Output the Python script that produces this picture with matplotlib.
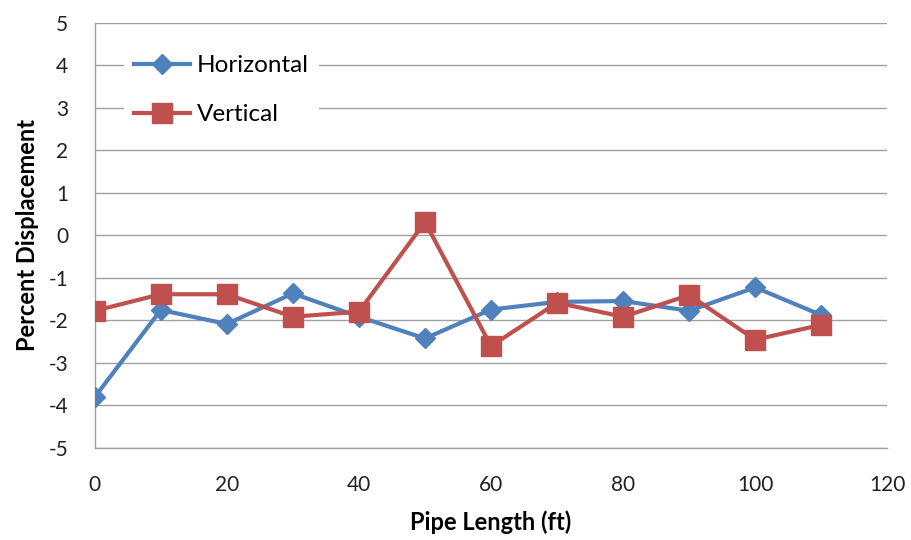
import matplotlib
matplotlib.use("Agg")
import matplotlib.pyplot as plt

pipe_length = [0, 10, 20, 30, 40, 50, 60, 70, 80, 90, 100, 110]
horizontal = [-3.81, -1.76, -2.09, -1.37, -1.92, -2.43, -1.75, -1.57, -1.55, -1.78, -1.23, -1.88]
vertical = [-1.78, -1.39, -1.39, -1.92, -1.80, 0.31, -2.61, -1.59, -1.92, -1.41, -2.46, -2.11]

x_ticks = [0, 20, 40, 60, 80, 100, 120]
y_ticks = [-5, -4, -3, -2, -1, 0, 1, 2, 3, 4, 5]

plt.rcParams['font.family'] = ['Lato', 'DejaVu Sans']

fig = plt.figure(figsize=(9.11, 5.40), dpi=100)
ax = fig.add_axes([0.104, 0.171, 0.870, 0.787])

ax.plot(pipe_length, horizontal, color='#4F81BD', linewidth=3, marker='D',
        markersize=10, label='Horizontal', zorder=3)
ax.plot(pipe_length, vertical, color='#C0504D', linewidth=3, marker='s',
        markersize=15, label='Vertical', zorder=4)

ax.set_xlim(0, 120)
ax.set_ylim(-5, 5)
ax.set_xticks(x_ticks)
ax.set_yticks(y_ticks)
ax.set_yticklabels([str(v) for v in y_ticks])
ax.tick_params(axis='both', length=0, labelsize=15, colors='#222222')
ax.tick_params(axis='x', pad=20)
ax.tick_params(axis='y', pad=19)

ax.grid(axis='y', color='#a0a0a0', linewidth=1)
ax.set_axisbelow(True)
for side in ['top', 'right']:
    ax.spines[side].set_visible(False)
for side in ['left', 'bottom']:
    ax.spines[side].set_color('#a0a0a0')
    ax.spines[side].set_linewidth(1)

ax.set_xlabel('Pipe Length (ft)', fontsize=17, fontweight='bold', labelpad=11)
ax.set_ylabel('Percent Displacement', fontsize=17, fontweight='bold', labelpad=7)

leg = ax.legend(loc='upper left', bbox_to_anchor=(0.022, 0.975), fontsize=17.5,
                frameon=True, facecolor='white', edgecolor='none', framealpha=1,
                fancybox=False, handlelength=2.3, labelspacing=1.15,
                handletextpad=0.3, borderpad=0.4)

fig.savefig('out.png', dpi=100)
